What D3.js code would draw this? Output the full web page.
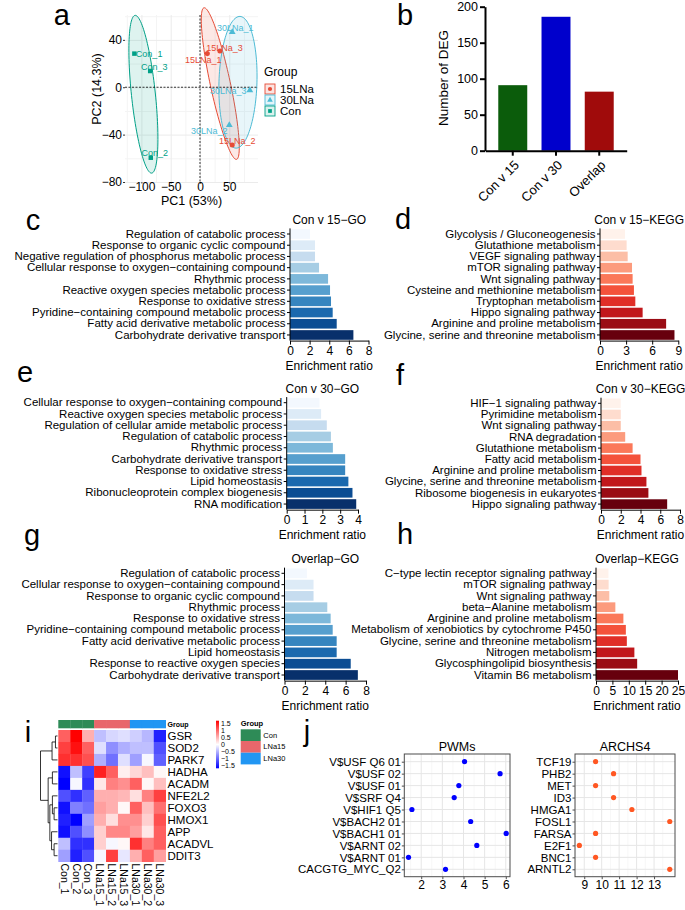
<!DOCTYPE html>
<html>
<head>
<meta charset="utf-8">
<script src="https://cdn.jsdelivr.net/npm/d3@7"></script>
<style>
body { margin: 0; background: #fff; }
svg { font-family: "Liberation Sans", Arial, sans-serif; }
</style>
</head>
<body>
<svg id="fig" width="685" height="910"></svg>
<script>
// ---------------- data ----------------
// a: PCA
var pcaSamples = ["Con_1", "Con_2", "Con_3", "15LNa_1", "15LNa_2", "15LNa_3", "30LNa_1", "30LNa_2", "30LNa_3"];
var pcaGroup = ["Con", "Con", "Con", "15LNa", "15LNa", "15LNa", "30LNa", "30LNa", "30LNa"];
var pcaPC1 = [-112, -84, -85, 12.5, 55, 34, 55, 50, 85];
var pcaPC2 = [28.4, -59.5, 13.7, 28.4, -48.8, 30.6, 46.6, -32, -2.5];
var pcaGroups = ["15LNa", "30LNa", "Con"];
// ellipse per group (PC units): centre, first half axis, second half axis
var ellCentre = [[34.6, 3.1], [64.8, 4.2], [-96.6, -5.9]];
var ellAxisA = [[27.8, -64], [3.4, 55.6], [-14.2, 66.6]];
var ellAxisB = [[16.7, 1.8], [32.4, -0.5], [20.3, 1.05]];
var pcaXTicks = [-100, -50, 0, 50];
var pcaYTicks = [-80, -40, 0, 40];

// b: DEG counts
var degCategories = ["Con v 15", "Con v 30", "Overlap"];
var degCounts = [91, 186, 82];
var degTicks = [0, 50, 100, 150, 200];

// c-h: enrichment bars (top to bottom)
var cTerms = ["Regulation of catabolic process", "Response to organic cyclic compound", "Negative regulation of phosphorus metabolic process", "Cellular response to oxygen\u2212containing compound", "Rhythmic process", "Reactive oxygen species metabolic process", "Response to oxidative stress", "Pyridine\u2212containing compound metabolic process", "Fatty acid derivative metabolic process", "Carbohydrate derivative transport"];
var cRatio = [2.04, 2.55, 2.55, 2.96, 3.88, 4.08, 4.18, 4.35, 4.76, 6.46];
var dTerms = ["Glycolysis / Gluconeogenesis", "Glutathione metabolism", "VEGF signaling pathway", "mTOR signaling pathway", "Wnt signaling pathway", "Cysteine and methionine metabolism", "Tryptophan metabolism", "Hippo signaling pathway", "Arginine and proline metabolism", "Glycine, serine and threonine metabolism"];
var dRatio = [2.87, 3.06, 3.18, 3.68, 3.75, 3.9, 4.06, 4.9, 7.6, 8.56];
var eTerms = ["Cellular response to oxygen\u2212containing compound", "Reactive oxygen species metabolic process", "Regulation of cellular amide metabolic process", "Regulation of catabolic process", "Rhythmic process", "Carbohydrate derivative transport", "Response to oxidative stress", "Lipid homeostasis", "Ribonucleoprotein complex biogenesis", "RNA modification"];
var eRatio = [1.84, 1.93, 2.25, 2.48, 2.59, 3.28, 3.28, 3.46, 3.69, 3.9];
var fTerms = ["HIF\u22121 signaling pathway", "Pyrimidine metabolism", "Wnt signaling pathway", "RNA degradation", "Glutathione metabolism", "Fatty acid metabolism", "Arginine and proline metabolism", "Glycine, serine and threonine metabolism", "Ribosome biogenesis in eukaryotes", "Hippo signaling pathway"];
var fRatio = [2.0, 2.0, 2.0, 2.45, 3.2, 4.0, 4.1, 4.6, 4.8, 6.7];
var gTerms = ["Regulation of catabolic process", "Cellular response to oxygen\u2212containing compound", "Response to organic cyclic compound", "Rhythmic process", "Response to oxidative stress", "Pyridine\u2212containing compound metabolic process", "Fatty acid derivative metabolic process", "Lipid homeostasis", "Response to reactive oxygen species", "Carbohydrate derivative transport"];
var gRatio = [2.2, 2.85, 2.85, 4.2, 4.53, 4.73, 5.12, 5.12, 6.5, 7.2];
var hTerms = ["C\u2212type lectin receptor signaling pathway", "mTOR signaling pathway", "Wnt signaling pathway", "beta\u2212Alanine metabolism", "Arginine and proline metabolism", "Metabolism of xenobiotics by cytochrome P450", "Glycine, serine and threonine metabolism", "Nitrogen metabolism", "Glycosphingolipid biosynthesis", "Vitamin B6 metabolism"];
var hRatio = [3.8, 3.85, 4.05, 5.9, 8.35, 9.1, 9.4, 11.7, 12.55, 25.0];

// i: heatmap (row z-scores)
var heatGenes = ["GSR", "SOD2", "PARK7", "HADHA", "ACADM", "NFE2L2", "FOXO3", "HMOX1", "APP", "ACADVL", "DDIT3"];
var heatSamples = ["Con_1", "Con_2", "Con_3", "LNa15_1", "LNa15_2", "LNa15_3", "LNa30_1", "LNa30_2", "LNa30_3"];
var heatSampleGroup = ["Con", "Con", "Con", "LNa15", "LNa15", "LNa15", "LNa30", "LNa30", "LNa30"];
var heatGroups = ["Con", "LNa15", "LNa30"];
var heatZ = [
  [1.0, 1.8, 0.5, -0.4, -0.25, -0.2, -0.3, -0.45, -1.4],
  [1.2, 1.5, 1.0, -0.2, -0.7, -0.5, -0.4, -0.4, -1.1],
  [1.3, 1.3, 1.1, -0.5, -0.9, -0.2, -0.6, -0.05, -1.0],
  [-1.5, -0.4, -1.2, 1.4, 1.0, 0.1, 0.25, 0.4, 0.05],
  [-1.7, -0.05, -1.3, 0.15, 0.8, 0.7, 1.0, 0.05, 0.4],
  [-1.1, -1.3, -1.0, 0.5, 0.5, 0.45, 0.2, 0.8, 1.2],
  [-1.5, -0.8, -0.9, 0.6, 0.5, 0.05, 1.0, 0.4, 0.9],
  [-1.4, -1.6, -0.6, 0.5, 0.2, 0.7, 0.7, 0.3, 1.1],
  [-1.5, -1.1, -0.7, 0.3, 0.75, 0.75, 0.6, 0.15, 1.0],
  [-0.4, -1.3, -1.3, 0.3, -0.05, 0.05, 1.3, 0.8, 1.0],
  [-0.6, -1.4, -1.1, -0.05, 1.2, -0.15, 0.5, 1.0, 0.6]
];
var heatLegendTicks = [1.5, 1, 0.5, 0, -0.5, -1, -1.5];
// row dendrogram (merge heights)
var geneTree = {h: 1.0, c: [
  {h: 0.32, c: [{h: 0.12, c: [{n: "GSR"}, {n: "SOD2"}]}, {n: "PARK7"}]},
  {h: 0.55, c: [
    {h: 0.3, c: [{n: "HADHA"}, {n: "ACADM"}]},
    {h: 0.45, c: [
      {h: 0.3, c: [{n: "NFE2L2"}, {h: 0.2, c: [{n: "FOXO3"}, {n: "HMOX1"}]}]},
      {h: 0.35, c: [{n: "APP"}, {h: 0.2, c: [{n: "ACADVL"}, {n: "DDIT3"}]}]}
    ]}
  ]}
]};

// j: transcription factor enrichment
var pwmTerms = ["V$USF Q6 01", "V$USF 02", "V$USF 01", "V$SRF Q4", "V$HIF1 Q5", "V$BACH2 01", "V$BACH1 01", "V$ARNT 02", "V$ARNT 01", "CACGTG_MYC_Q2"];
var pwmRatio = [4.05, 5.73, 3.78, 3.56, 1.56, 4.34, 6.02, 4.63, 1.4, 3.15];
var archsTerms = ["TCF19", "PHB2", "MET", "ID3", "HMGA1", "FOSL1", "FARSA", "E2F1", "BNC1", "ARNTL2"];
var archsRatio = [9.65, 10.68, 9.65, 10.68, 11.73, 13.9, 9.65, 8.72, 9.65, 13.9];

// ---------------- drawing ----------------
var svg = d3.select("#fig");
var intFmt = d3.format("d");

// panel letters
var letters = [["a", 61.7, 25], ["b", 405, 25], ["c", 33, 230], ["d", 403, 229], ["e", 25, 382],
               ["f", 400, 385], ["g", 32, 545], ["h", 405, 544], ["i", 28, 742], ["j", 307, 741]];
svg.selectAll("text.letter").data(letters).enter().append("text")
  .attr("class", "letter")
  .attr("x", function (d) { return d[1]; })
  .attr("y", function (d) { return d[2]; })
  .attr("text-anchor", "middle")
  .attr("font-size", 29)
  .text(function (d) { return d[0]; });

// ---------- a: PCA ----------
var npg = {"15LNa": "#E64B35", "30LNa": "#4DBBD5", "Con": "#00A087"};
var shapes = {"15LNa": d3.symbolCircle, "30LNa": d3.symbolTriangle, "Con": d3.symbolSquare};
var ax = d3.scaleLinear().domain([-128, 99]).range([125, 258]);
var ay = d3.scaleLinear().domain([-80, 61]).range([182, 15]);
var pa = svg.append("g");

// grid: minor then major
function gridX(vals, col) {
  pa.append("g").attr("transform", "translate(0,182)")
    .call(d3.axisBottom(ax).tickValues(vals).tickSize(-167).tickFormat(""))
    .call(function (g) { g.select(".domain").remove(); g.selectAll("line").attr("stroke", col); });
}
function gridY(vals, col) {
  pa.append("g").attr("transform", "translate(125,0)")
    .call(d3.axisLeft(ay).tickValues(vals).tickSize(-133).tickFormat(""))
    .call(function (g) { g.select(".domain").remove(); g.selectAll("line").attr("stroke", col); });
}
gridX([-125, -75, -25, 25, 75], "#f4f4f4");
gridY([-60, -20, 20, 60], "#f4f4f4");
gridX(pcaXTicks, "#ebebeb");
gridY(pcaYTicks, "#ebebeb");

// axes (labels)
pa.append("g").attr("transform", "translate(0,182)")
  .call(d3.axisBottom(ax).tickValues(pcaXTicks).tickSize(1.5).tickPadding(0))
  .call(function (g) {
    g.select(".domain").remove();
    g.selectAll("line").attr("stroke", "#333");
    g.selectAll("text").attr("font-size", 12).attr("fill", "#000").attr("y", 0).attr("dy", "0.75em");
  });
pa.append("g").attr("transform", "translate(125,0)")
  .call(d3.axisLeft(ay).tickValues(pcaYTicks).tickSize(2).tickPadding(1))
  .call(function (g) {
    g.select(".domain").remove();
    g.selectAll("line").attr("stroke", "#333");
    g.selectAll("text").attr("font-size", 12).attr("fill", "#000");
  });
pa.append("text").attr("x", 191.5).attr("y", 204.5).attr("text-anchor", "middle")
  .attr("font-size", 12.5).text("PC1 (53%)");
pa.append("text").attr("transform", "translate(101,89) rotate(-90)").attr("text-anchor", "middle")
  .attr("font-size", 12.5).text("PC2 (14.3%)");

// ellipses
var ellLine = d3.line().x(function (p) { return ax(p[0]); }).y(function (p) { return ay(p[1]); });
pcaGroups.forEach(function (grp, i) {
  var pts = d3.range(0, 121).map(function (k) {
    var t = k / 120 * 2 * Math.PI;
    return [ellCentre[i][0] + ellAxisA[i][0] * Math.cos(t) + ellAxisB[i][0] * Math.sin(t),
            ellCentre[i][1] + ellAxisA[i][1] * Math.cos(t) + ellAxisB[i][1] * Math.sin(t)];
  });
  pa.append("path").attr("d", ellLine(pts) + "Z")
    .attr("fill", npg[grp]).attr("fill-opacity", 0.13)
    .attr("stroke", npg[grp]).attr("stroke-width", 1);
});

// zero lines
pa.append("line").attr("x1", ax(0)).attr("x2", ax(0)).attr("y1", 15).attr("y2", 182)
  .attr("stroke", "#000").attr("stroke-width", 0.8).attr("stroke-dasharray", "2,1.5");
pa.append("line").attr("x1", 125).attr("x2", 258).attr("y1", ay(0)).attr("y2", ay(0))
  .attr("stroke", "#000").attr("stroke-width", 0.8).attr("stroke-dasharray", "2,1.5");

// points and labels
var labelOffset = {"Con_1": [1.5, 0, "start"], "Con_3": [4, -4.5, "middle"], "Con_2": [4, -4.5, "middle"],
  "15LNa_3": [4.5, -3.5, "middle"], "15LNa_1": [-4, 6, "middle"], "15LNa_2": [5, -4.5, "middle"],
  "30LNa_1": [3, -4, "middle"], "30LNa_3": [-21.5, 1, "middle"], "30LNa_2": [-20, 5.5, "middle"]};
pcaSamples.forEach(function (s, i) {
  var grp = pcaGroup[i];
  var px = ax(pcaPC1[i]), py = ay(pcaPC2[i]);
  pa.append("path").attr("transform", "translate(" + px + "," + py + ")")
    .attr("d", d3.symbol().type(shapes[grp]).size(20)()).attr("fill", npg[grp]);
  var o = labelOffset[s];
  pa.append("text").attr("x", px + o[0]).attr("y", py + o[1]).attr("dy", "0.35em")
    .attr("text-anchor", o[2]).attr("font-size", 9).attr("fill", npg[grp]).text(s);
});

// legend
pa.append("text").attr("x", 264).attr("y", 76).attr("font-size", 12).text("Group");
pcaGroups.forEach(function (grp, i) {
  var ky = 89 + i * 11;
  pa.append("rect").attr("x", 265).attr("y", ky - 5).attr("width", 10).attr("height", 10)
    .attr("fill", npg[grp]).attr("fill-opacity", 0.15).attr("stroke", npg[grp]).attr("stroke-width", 0.9);
  pa.append("path").attr("transform", "translate(270," + ky + ")")
    .attr("d", d3.symbol().type(shapes[grp]).size(14)()).attr("fill", npg[grp]);
  pa.append("text").attr("x", 280).attr("y", ky).attr("dy", "0.36em").attr("font-size", 11.5).text(grp);
});

// ---------- b: DEG bars ----------
var degColors = ["#0B5C0B", "#0000CC", "#A00B0B"];
var bx = d3.scaleBand().domain(degCategories).range([485.3, 626.7]).paddingInner(0.33).paddingOuter(0.3);
var by = d3.scaleLinear().domain([0, 200]).range([150.7, 6.7]);
var pb = svg.append("g");
pb.selectAll("rect").data(degCounts).enter().append("rect")
  .attr("x", function (d, i) { return bx(degCategories[i]); })
  .attr("y", function (d) { return by(d); })
  .attr("width", bx.bandwidth())
  .attr("height", function (d) { return by(0) - by(d); })
  .attr("fill", function (d, i) { return degColors[i]; });
pb.append("g").attr("transform", "translate(485,0)")
  .call(d3.axisLeft(by).tickValues(degTicks).tickSize(5).tickSizeOuter(0).tickPadding(2))
  .call(function (g) {
    g.selectAll("line, path").attr("stroke-width", 2);
    g.selectAll("text").attr("font-size", 12.5);
  });
pb.append("g").attr("transform", "translate(0,150.7)")
  .call(d3.axisBottom(bx).tickSize(5).tickSizeOuter(0).tickPadding(3))
  .call(function (g) {
    g.selectAll("line, path").attr("stroke-width", 2);
    g.selectAll("text").attr("font-size", 13).attr("text-anchor", "end")
      .attr("x", 0).attr("y", 0).attr("dy", "0.35em")
      .attr("transform", "translate(4,12) rotate(-45)");
  });
pb.append("text").attr("transform", "translate(448,78) rotate(-90)").attr("text-anchor", "middle")
  .attr("font-size", 13.5).text("Number of DEG");

// ---------- c-h: enrichment bar panels ----------
function enrichPanel(terms, ratio, o) {
  var g = svg.append("g");
  var first = o.first, last = o.first + o.step * (terms.length - 1);
  var y = d3.scaleBand().domain(terms).range([first - o.step / 2, last + o.step / 2])
    .paddingInner(0.14).paddingOuter(0.07);
  var x = d3.scaleLinear().domain([0, o.max]).range([o.x0, o.x0 + o.w]);
  var n = terms.length;
  g.selectAll("rect").data(ratio).enter().append("rect")
    .attr("x", o.x0)
    .attr("y", function (d, i) { return y(terms[i]); })
    .attr("width", function (d) { return x(d) - o.x0; })
    .attr("height", y.bandwidth())
    .attr("fill", function (d, i) { return o.interp(0.02 + 0.98 * i / (n - 1)); });
  var yBottom = last + o.step / 2;
  g.append("g").attr("transform", "translate(" + o.x0 + ",0)")
    .call(d3.axisLeft(y).tickSize(3).tickSizeOuter(0).tickPadding(1.5))
    .call(function (a) {
      a.select(".domain").attr("d", "M0," + (first - o.step / 2) + "V" + yBottom);
      a.selectAll("text").attr("font-size", 11.5).attr("fill", "#000");
    });
  g.append("g").attr("transform", "translate(0," + yBottom + ")")
    .call(d3.axisBottom(x).tickValues(o.ticks).tickFormat(intFmt).tickSize(4).tickSizeOuter(0).tickPadding(2))
    .call(function (a) { a.selectAll("text").attr("font-size", 12).attr("fill", "#000"); });
  var cx = o.x0 + o.w / 2;
  g.append("text").attr("x", cx).attr("y", yBottom + 29).attr("text-anchor", "middle")
    .attr("font-size", 12).text("Enrichment ratio");
  g.append("text").attr("x", cx).attr("y", first - 10).attr("text-anchor", "middle")
    .attr("font-size", 12).text(o.title);
}
enrichPanel(cTerms, cRatio, {first: 234, step: 11.22, x0: 290, w: 78.5, max: 8, ticks: [0, 2, 4, 6, 8],
  title: "Con v 15\u2212GO", interp: d3.interpolateBlues});
enrichPanel(dTerms, dRatio, {first: 234, step: 11.22, x0: 600, w: 78.3, max: 9, ticks: [0, 3, 6, 9],
  title: "Con v 15\u2212KEGG", interp: d3.interpolateReds});
enrichPanel(eTerms, eRatio, {first: 402.7, step: 11.26, x0: 286.7, w: 71.3, max: 4, ticks: [0, 1, 2, 3, 4],
  title: "Con v 30\u2212GO", interp: d3.interpolateBlues});
enrichPanel(fTerms, fRatio, {first: 403.3, step: 11.2, x0: 601, w: 79, max: 8, ticks: [0, 2, 4, 6, 8],
  title: "Con v 30\u2212KEGG", interp: d3.interpolateReds});
enrichPanel(gTerms, gRatio, {first: 573.3, step: 11.3, x0: 284.5, w: 81.5, max: 8, ticks: [0, 2, 4, 6, 8],
  title: "Overlap\u2212GO", interp: d3.interpolateBlues});
enrichPanel(hTerms, hRatio, {first: 573.3, step: 11.3, x0: 596, w: 82, max: 25, ticks: [0, 5, 10, 15, 20, 25],
  title: "Overlap\u2212KEGG", interp: d3.interpolateReds});

// ---------- i: heatmap ----------
var pi = svg.append("g");
var hx = d3.scaleBand().domain(heatSamples).range([58.3, 165.7]);
var hy = d3.scaleBand().domain(heatGenes).range([730, 861.7]);
var zColor = d3.scaleLinear().domain([-1.6, 0, 1.6]).range(["#0000FF", "#FFFFFF", "#FF0000"]).clamp(true);
var annColor = {"Con": "#2E8B57", "LNa15": "#E8676B", "LNa30": "#2196F3"};

heatZ.forEach(function (row, r) {
  row.forEach(function (v, c) {
    pi.append("rect").attr("x", hx(heatSamples[c])).attr("y", hy(heatGenes[r]))
      .attr("width", hx.bandwidth() + 0.3).attr("height", hy.bandwidth() + 0.3)
      .attr("fill", zColor(v));
  });
});
heatSamples.forEach(function (s, c) {
  pi.append("rect").attr("x", hx(s)).attr("y", 720).attr("width", hx.bandwidth() + 0.3).attr("height", 8.3)
    .attr("fill", annColor[heatSampleGroup[c]]);
  pi.append("text").attr("transform", "translate(" + (hx(s) + hx.bandwidth() / 2) + ",863.5) rotate(90)")
    .attr("dy", "0.35em").attr("font-size", 10.5).text(s);
});
pi.append("text").attr("x", 167.5).attr("y", 727).attr("font-size", 7).attr("font-weight", "bold").text("Group");
heatGenes.forEach(function (gname) {
  pi.append("text").attr("x", 167.5).attr("y", hy(gname) + hy.bandwidth() / 2).attr("dy", "0.36em")
    .attr("font-size", 11.5).text(gname);
});

// dendrogram
var root = d3.hierarchy(geneTree, function (d) { return d.c; });
var dx = d3.scaleLinear().domain([0, 1]).range([57.5, 40.5]);
root.eachAfter(function (node) {
  if (!node.children) { node.py = hy(node.data.n) + hy.bandwidth() / 2; node.hh = 0; }
  else {
    node.hh = node.data.h;
    node.py = (node.children[0].py + node.children[node.children.length - 1].py) / 2;
  }
});
root.each(function (node) {
  if (!node.children) return;
  var xn = dx(node.hh);
  pi.append("line").attr("x1", xn).attr("x2", xn)
    .attr("y1", node.children[0].py).attr("y2", node.children[node.children.length - 1].py)
    .attr("stroke", "#000").attr("stroke-width", 0.8);
  node.children.forEach(function (ch) {
    pi.append("line").attr("x1", xn).attr("x2", dx(ch.hh)).attr("y1", ch.py).attr("y2", ch.py)
      .attr("stroke", "#000").attr("stroke-width", 0.8);
  });
});

// colour legend
var grad = svg.append("defs").append("linearGradient").attr("id", "zgrad")
  .attr("x1", 0).attr("x2", 0).attr("y1", 1).attr("y2", 0);
[-1.6, 0, 1.6].forEach(function (v, k) {
  grad.append("stop").attr("offset", (k * 50) + "%").attr("stop-color", zColor(v));
});
var ly = d3.scaleLinear().domain([-1.66, 1.68]).range([768.3, 720.7]);
pi.append("rect").attr("x", 216).attr("y", 720.7).attr("width", 3).attr("height", 47.6).attr("fill", "url(#zgrad)");
heatLegendTicks.forEach(function (t) {
  pi.append("text").attr("x", 221).attr("y", ly(t)).attr("dy", "0.35em").attr("font-size", 7)
    .text(d3.format("")(t).replace("-", "\u2212"));
});
pi.append("text").attr("x", 240.7).attr("y", 726).attr("font-size", 7.5).attr("font-weight", "bold").text("Group");
heatGroups.forEach(function (grp, k) {
  var yy = 729.3 + k * 11.7;
  pi.append("rect").attr("x", 240.7).attr("y", yy).attr("width", 20).attr("height", 11.7).attr("fill", annColor[grp]);
  pi.append("text").attr("x", 263.3).attr("y", yy + 5.85).attr("dy", "0.35em").attr("font-size", 7.5).text(grp);
});

// ---------- j: dot plots ----------
function dotPanel(terms, ratio, o) {
  var g = svg.append("g");
  var x = d3.scaleLinear().domain(o.domain).range([o.x0, o.x1]);
  var y = d3.scalePoint().domain(terms).range([761.7, 869.3]);
  var top = 754, bot = 876.7;
  // minor grid
  g.selectAll("line.minor").data(o.minor).enter().append("line")
    .attr("x1", function (d) { return x(d); }).attr("x2", function (d) { return x(d); })
    .attr("y1", top).attr("y2", bot).attr("stroke", "#f2f2f2").attr("stroke-width", 0.6);
  g.selectAll("line.major").data(o.ticks).enter().append("line")
    .attr("x1", function (d) { return x(d); }).attr("x2", function (d) { return x(d); })
    .attr("y1", top).attr("y2", bot).attr("stroke", "#e6e6e6").attr("stroke-width", 1);
  g.selectAll("line.row").data(terms).enter().append("line")
    .attr("x1", o.x0).attr("x2", o.x1)
    .attr("y1", function (d) { return y(d); }).attr("y2", function (d) { return y(d); })
    .attr("stroke", "#e6e6e6").attr("stroke-width", 1);
  g.selectAll("circle").data(ratio).enter().append("circle")
    .attr("cx", function (d) { return x(d); })
    .attr("cy", function (d, i) { return y(terms[i]); })
    .attr("r", 2.6).attr("fill", o.color);
  g.append("rect").attr("x", o.x0).attr("y", top).attr("width", o.x1 - o.x0).attr("height", bot - top)
    .attr("fill", "none").attr("stroke", "#4d4d4d").attr("stroke-width", 1);
  g.append("g").attr("transform", "translate(" + o.x0 + ",0)")
    .call(d3.axisLeft(y).tickSize(2.5).tickPadding(1))
    .call(function (a) {
      a.select(".domain").remove();
      a.selectAll("line").attr("stroke", "#4d4d4d");
      a.selectAll("text").attr("font-size", 11.5).attr("fill", "#000");
    });
  g.append("g").attr("transform", "translate(0," + bot + ")")
    .call(d3.axisBottom(x).tickValues(o.ticks).tickFormat(intFmt).tickSize(2.5).tickPadding(1.5))
    .call(function (a) {
      a.select(".domain").remove();
      a.selectAll("line").attr("stroke", "#4d4d4d");
      a.selectAll("text").attr("font-size", 12).attr("fill", "#000");
    });
  g.append("text").attr("x", (o.x0 + o.x1) / 2).attr("y", 751).attr("text-anchor", "middle")
    .attr("font-size", 12.5).text(o.title);
}
dotPanel(pwmTerms, pwmRatio, {domain: [1.2, 6.2], x0: 404.3, x1: 510, ticks: [2, 3, 4, 5, 6],
  minor: [1.5, 2.5, 3.5, 4.5, 5.5], color: "#0000FF", title: "PWMs"});
dotPanel(archsTerms, archsRatio, {domain: [8.47, 14.2], x0: 575, x1: 675, ticks: [9, 10, 11, 12, 13],
  minor: [8.5, 9.5, 10.5, 11.5, 12.5, 13.5], color: "#FF5722", title: "ARCHS4"});
</script>
</body>
</html>
